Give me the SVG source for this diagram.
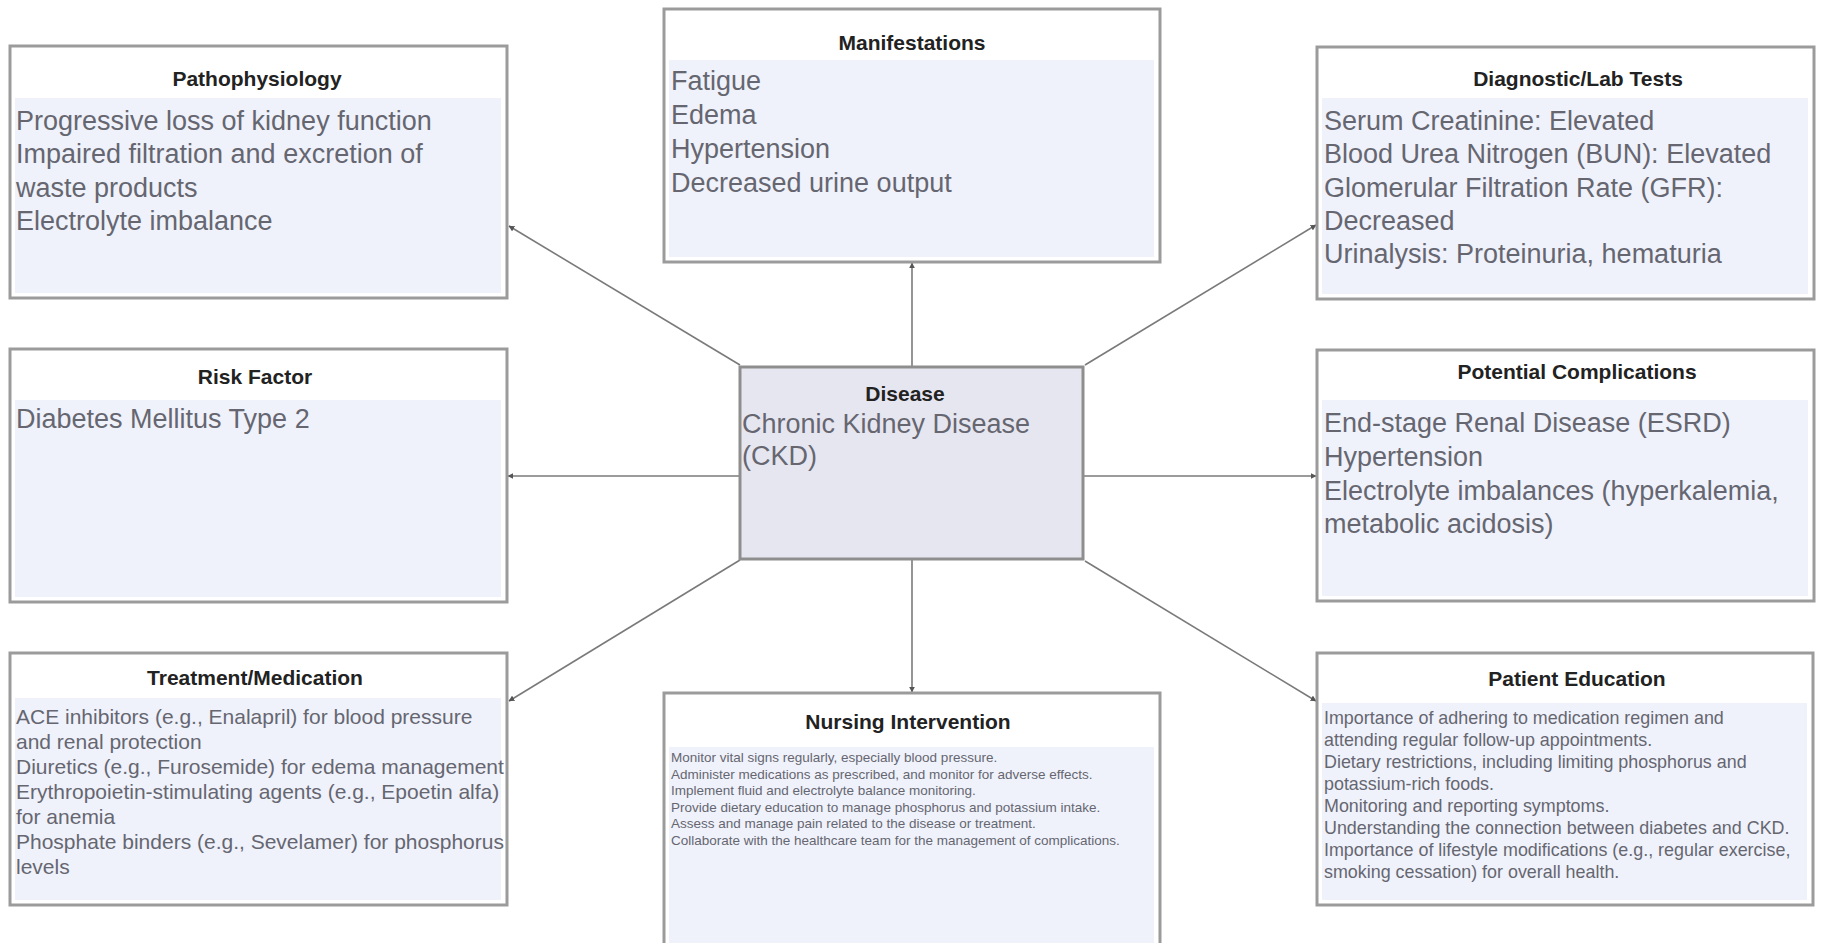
<svg xmlns="http://www.w3.org/2000/svg" width="1822" height="943" viewBox="0 0 1822 943">
<style>
.box{fill:#ffffff;stroke:#9b9b9b;stroke-width:3}
.body{fill:#eff2fb}
.title{font-family:"Liberation Sans",Arial,sans-serif;font-weight:bold;font-size:21px;fill:#222;text-anchor:middle}
.t27{font-family:"Liberation Sans",Arial,sans-serif;font-size:27px;fill:#666670}
.t19{font-family:"Liberation Sans",Arial,sans-serif;font-size:21px;fill:#666670}
.t17{font-family:"Liberation Sans",Arial,sans-serif;font-size:17.9px;fill:#666670}
.t13{font-family:"Liberation Sans",Arial,sans-serif;font-size:13.5px;fill:#666670}
.conn{stroke:#7a7a7a;stroke-width:1.6;fill:none;marker-end:url(#arr)}
</style>
<defs>
<marker id="arr" viewBox="0 0 10 10" refX="9" refY="5" markerWidth="6" markerHeight="6" orient="auto" markerUnits="userSpaceOnUse">
<path d="M0,0 L10,5 L0,10 z" fill="#555"/>
</marker>
</defs>
<rect width="1822" height="943" fill="#ffffff"/>

<g id="connectors">
<line class="conn" x1="912" y1="367" x2="912" y2="263"/>
<line class="conn" x1="912" y1="559" x2="912" y2="692"/>
<line class="conn" x1="740" y1="476" x2="508" y2="476"/>
<line class="conn" x1="1083" y1="476" x2="1316" y2="476"/>
<line class="conn" x1="740" y1="365" x2="509" y2="226"/>
<line class="conn" x1="1085" y1="365" x2="1316" y2="225"/>
<line class="conn" x1="740" y1="560" x2="509" y2="701"/>
<line class="conn" x1="1085" y1="561" x2="1316" y2="701"/>
</g>

<g id="pathophysiology">
<rect class="box" x="10" y="46" width="497" height="252"/>
<rect class="body" x="15" y="98" width="486" height="195"/>
<text class="title" x="257" y="86">Pathophysiology</text>
<text class="t27" x="16"><tspan x="16" y="130">Progressive loss of kidney function</tspan><tspan x="16" y="163">Impaired filtration and excretion of</tspan><tspan x="16" y="197">waste products</tspan><tspan x="16" y="230">Electrolyte imbalance</tspan></text>
</g>

<g id="manifestations">
<rect class="box" x="664" y="9" width="496" height="253"/>
<rect class="body" x="669" y="60" width="485" height="197"/>
<text class="title" x="912" y="50">Manifestations</text>
<text class="t27"><tspan x="671" y="90">Fatigue</tspan><tspan x="671" y="124">Edema</tspan><tspan x="671" y="158">Hypertension</tspan><tspan x="671" y="192">Decreased urine output</tspan></text>
</g>

<g id="diagnostic">
<rect class="box" x="1317" y="47" width="497" height="252"/>
<rect class="body" x="1322" y="98" width="486" height="196"/>
<text class="title" x="1578" y="86">Diagnostic/Lab Tests</text>
<text class="t27"><tspan x="1324" y="130">Serum Creatinine: Elevated</tspan><tspan x="1324" y="163">Blood Urea Nitrogen (BUN): Elevated</tspan><tspan x="1324" y="197">Glomerular Filtration Rate (GFR):</tspan><tspan x="1324" y="230">Decreased</tspan><tspan x="1324" y="263">Urinalysis: Proteinuria, hematuria</tspan></text>
</g>

<g id="risk-factor">
<rect class="box" x="10" y="349" width="497" height="253"/>
<rect class="body" x="15" y="400" width="486" height="197"/>
<text class="title" x="255" y="384">Risk Factor</text>
<text class="t27"><tspan x="16" y="428">Diabetes Mellitus Type 2</tspan></text>
</g>

<g id="disease">
<rect x="740" y="367" width="343" height="192" fill="#e6e6f0" stroke="#8e8e8e" stroke-width="3"/>
<text class="title" x="905" y="401">Disease</text>
<text class="t27"><tspan x="742" y="433">Chronic Kidney Disease</tspan><tspan x="742" y="465">(CKD)</tspan></text>
</g>

<g id="complications">
<rect class="box" x="1317" y="350" width="497" height="251"/>
<rect class="body" x="1322" y="400" width="486" height="196"/>
<text class="title" x="1577" y="379">Potential Complications</text>
<text class="t27"><tspan x="1324" y="432">End-stage Renal Disease (ESRD)</tspan><tspan x="1324" y="466">Hypertension</tspan><tspan x="1324" y="500">Electrolyte imbalances (hyperkalemia,</tspan><tspan x="1324" y="533">metabolic acidosis)</tspan></text>
</g>

<g id="treatment">
<rect class="box" x="10" y="653" width="497" height="252"/>
<rect class="body" x="15" y="698" width="486" height="202"/>
<text class="title" x="255" y="685">Treatment/Medication</text>
<text class="t19"><tspan x="16" y="724">ACE inhibitors (e.g., Enalapril) for blood pressure</tspan><tspan x="16" y="749">and renal protection</tspan><tspan x="16" y="774">Diuretics (e.g., Furosemide) for edema management</tspan><tspan x="16" y="799">Erythropoietin-stimulating agents (e.g., Epoetin alfa)</tspan><tspan x="16" y="824">for anemia</tspan><tspan x="16" y="849">Phosphate binders (e.g., Sevelamer) for phosphorus</tspan><tspan x="16" y="874">levels</tspan></text>
</g>

<g id="nursing">
<rect class="box" x="664" y="693" width="496" height="262"/>
<rect class="body" x="669" y="747" width="485" height="200"/>
<text class="title" x="908" y="729">Nursing Intervention</text>
<text class="t13"><tspan x="671" y="762">Monitor vital signs regularly, especially blood pressure.</tspan><tspan x="671" y="779">Administer medications as prescribed, and monitor for adverse effects.</tspan><tspan x="671" y="795">Implement fluid and electrolyte balance monitoring.</tspan><tspan x="671" y="812">Provide dietary education to manage phosphorus and potassium intake.</tspan><tspan x="671" y="828">Assess and manage pain related to the disease or treatment.</tspan><tspan x="671" y="845">Collaborate with the healthcare team for the management of complications.</tspan></text>
</g>

<g id="patient-education">
<rect class="box" x="1317" y="653" width="496" height="252"/>
<rect class="body" x="1322" y="703" width="485" height="197"/>
<text class="title" x="1577" y="686">Patient Education</text>
<text class="t17"><tspan x="1324" y="724">Importance of adhering to medication regimen and</tspan><tspan x="1324" y="746">attending regular follow-up appointments.</tspan><tspan x="1324" y="768">Dietary restrictions, including limiting phosphorus and</tspan><tspan x="1324" y="790">potassium-rich foods.</tspan><tspan x="1324" y="812">Monitoring and reporting symptoms.</tspan><tspan x="1324" y="834">Understanding the connection between diabetes and CKD.</tspan><tspan x="1324" y="856">Importance of lifestyle modifications (e.g., regular exercise,</tspan><tspan x="1324" y="878">smoking cessation) for overall health.</tspan></text>
</g>
</svg>
